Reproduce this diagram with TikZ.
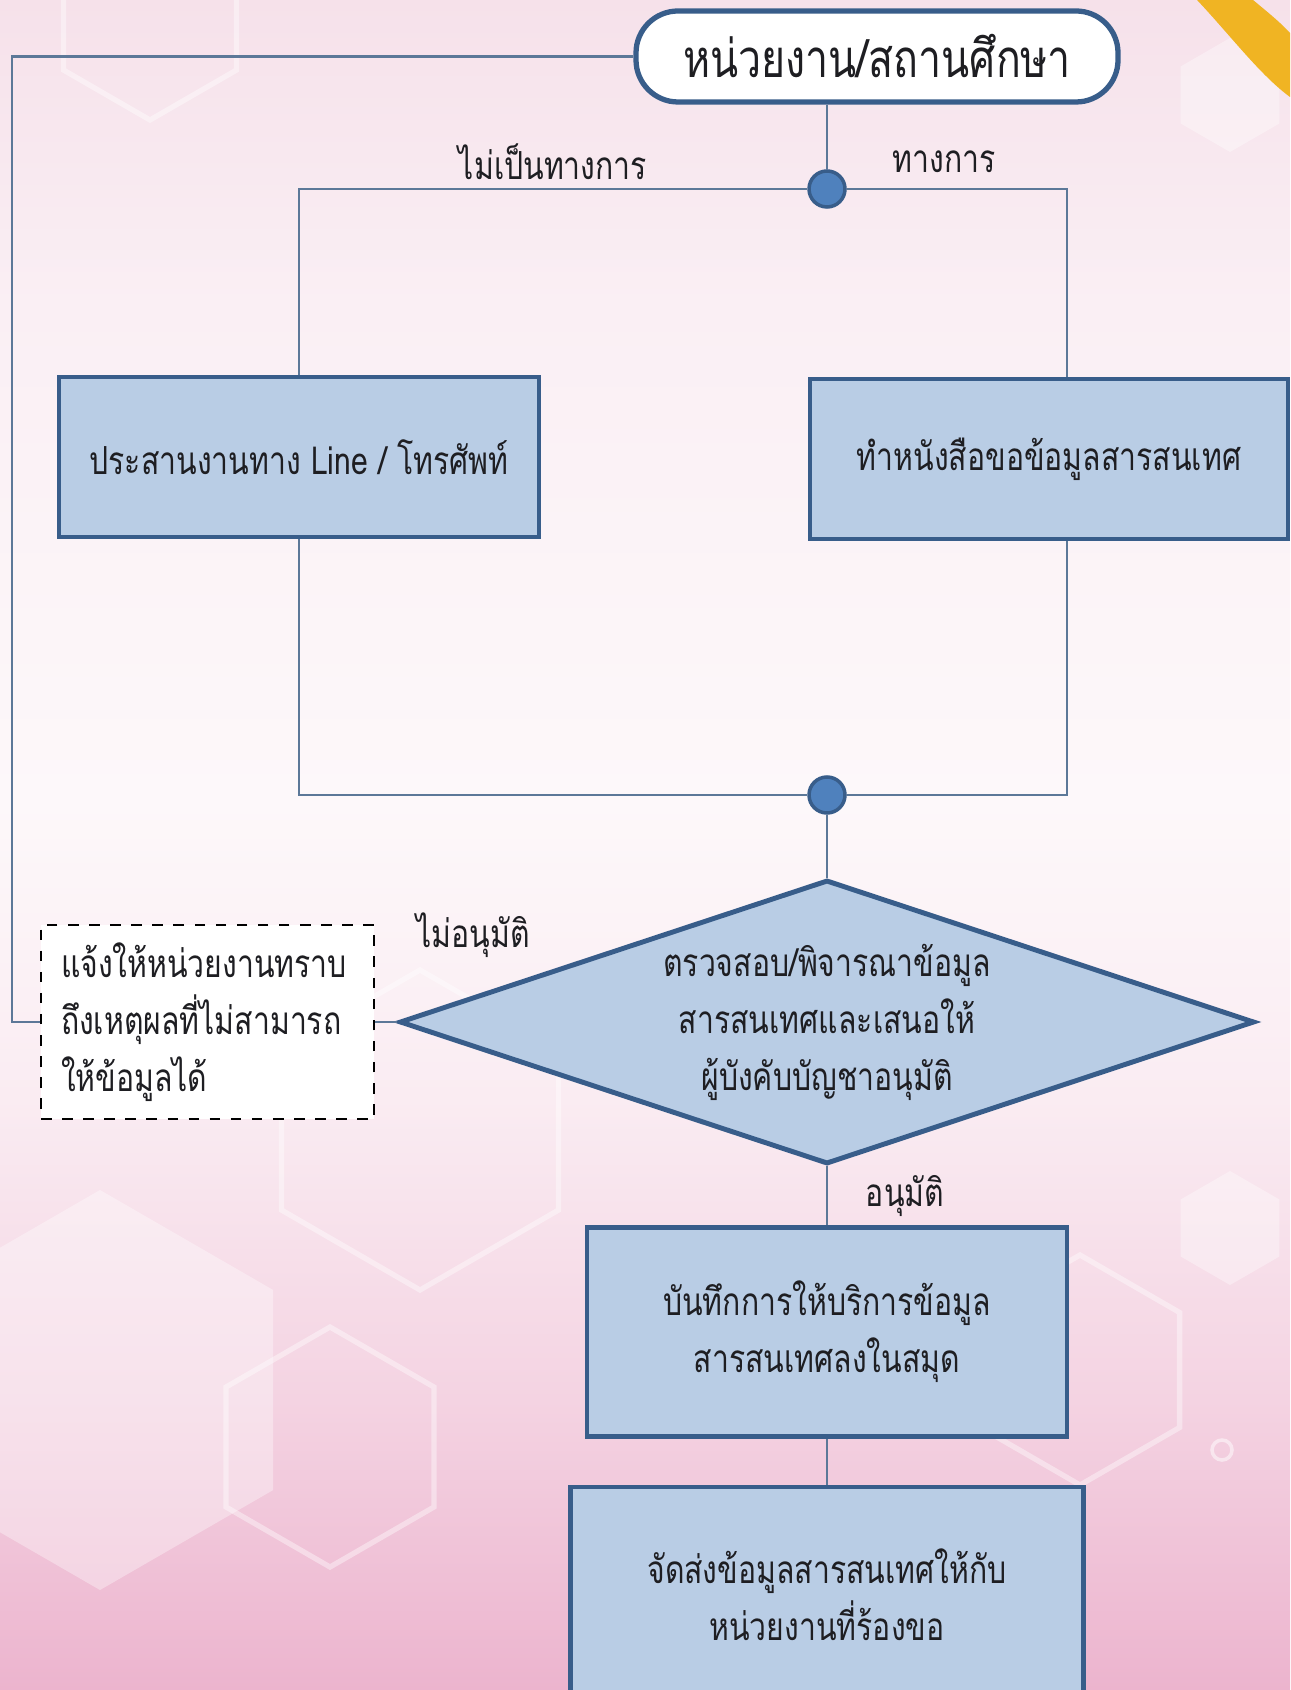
\documentclass[tikz,border=0pt]{standalone}
\usepackage{fontspec}
\newfontfamily\thaifont[Script=Thai, FakeStretch=0.78]{Loma}
\usetikzlibrary{shapes.geometric, positioning, calc}

\definecolor{boxfill}{RGB}{185,205,229}
\definecolor{boxline}{RGB}{56,93,138}
\definecolor{connline}{RGB}{92,120,152}
\definecolor{dotfill}{RGB}{79,129,189}
\definecolor{bgA}{RGB}{236,180,206}
\definecolor{bgB}{RGB}{244,211,226}
\definecolor{bgC}{RGB}{250,236,242}
\definecolor{bgD}{RGB}{253,248,250}
\definecolor{bgE}{RGB}{250,239,244}
\definecolor{bgF}{RGB}{246,225,234}
\definecolor{bandcol}{RGB}{240,180,35}
\definecolor{txtcol}{RGB}{30,30,34}

% page runs from 25bp (bottom) to 75bp (top)
\pgfdeclareverticalshading{bgfade}{100bp}{color(0bp)=(bgA); color(25bp)=(bgA); color(33.6bp)=(bgB);
    color(42.5bp)=(bgC); color(51.3bp)=(bgD); color(66bp)=(bgE); color(75bp)=(bgF); color(100bp)=(bgF)}

\tikzset{
    process/.style={rectangle, draw=boxline, line width=1.4pt, fill=boxfill, text=txtcol,
        align=center, inner sep=0pt, font=\thaifont\fontsize{11}{16.2}\selectfont},
    startbox/.style={rectangle, rounded corners=0.42cm, draw=boxline, line width=1.5pt, fill=white,
        text=txtcol, inner sep=0pt, font=\thaifont\fontsize{15}{17}\selectfont},
    decision/.style={diamond, draw=boxline, line width=1.4pt, fill=boxfill, text=txtcol,
        align=center, inner sep=0pt, shape aspect=3, font=\thaifont\fontsize{11}{16.2}\selectfont},
    notebox/.style={rectangle, draw=black, dashed, thin, fill=white, text=txtcol, align=left,
        inner xsep=0.2cm, inner ysep=0pt, font=\thaifont\fontsize{11}{16.2}\selectfont},
    junction/.style={circle, draw=boxline, line width=1pt, fill=dotfill, inner sep=0pt, minimum size=0.36cm},
    branch/.style={text=txtcol, inner sep=0pt, font=\thaifont\fontsize{11}{14}\selectfont},
    conn/.style={draw=connline, line width=0.6pt},
    hexfill/.style={fill=white, opacity=0.35},
    hexline/.style={draw=white, line width=1.5pt, opacity=0.4}
}

\begin{document}
\begin{tikzpicture}
    \useasboundingbox (0,0) rectangle (12.9,-16.9);
    \clip (0,0) rectangle (12.9,-16.9);

    % Background
    \shade[shading=bgfade] (0,0) rectangle (12.9,-16.9);
    \foreach \x/\y/\r in {12.30/-0.95/0.57, 12.30/-12.28/0.57, 1.0/-13.9/2.0}
        \path[hexfill] (\x,\y) +(30:\r) \foreach \a in {90,150,...,330} { -- +(\a:\r) } -- cycle;
    \foreach \x/\y/\r in {10.8/-13.7/1.15, 3.3/-14.47/1.2, 1.5/-0.2/1.0, 4.2/-11.3/1.6}
        \path[hexline] (\x,\y) +(30:\r) \foreach \a in {90,150,...,330} { -- +(\a:\r) } -- cycle;
    \draw[white, line width=1pt, opacity=0.5] (12.22,-14.5) circle (0.1);
    \fill[bandcol] (11.97,0) .. controls (12.3,-0.35) and (12.6,-0.75) .. (12.9,-0.97)
        -- (12.9,-0.33) .. controls (12.8,-0.22) and (12.65,-0.1) .. (12.53,0) -- cycle;

    % Nodes
    \node[startbox, minimum width=4.82cm, minimum height=0.91cm] (unit) at (8.77,-0.565) {หน่วยงาน/สถานศึกษา};
    \node[junction] (split) at (8.27,-1.89) {};
    \node[branch] (informal) at (5.53,-1.62) {ไม่เป็นทางการ};
    \node[branch] (formal) at (9.44,-1.62) {ทางการ};
    \node[process, minimum width=4.80cm, minimum height=1.60cm] (phone) at (2.99,-4.57) {ประสานงานทาง Line / โทรศัพท์};
    \node[process, minimum width=4.78cm, minimum height=1.60cm] (letter) at (10.49,-4.59) {ทำหนังสือขอข้อมูลสารสนเทศ};
    \node[junction] (merge) at (8.27,-7.95) {};
    \node[decision, minimum width=8.55cm, minimum height=2.84cm] (check) at (8.27,-10.22)
        {ตรวจสอบ/พิจารณาข้อมูล\\สารสนเทศและเสนอให้\\ผู้บังคับบัญชาอนุมัติ};
    \node[notebox, minimum width=3.33cm, minimum height=1.94cm, text width=2.93cm] (notify) at (2.075,-10.22)
        {แจ้งให้หน่วยงานทราบ\\ถึงเหตุผลที่ไม่สามารถ\\ให้ข้อมูลได้};
    \node[branch] (reject) at (4.73,-9.35) {ไม่อนุมัติ};
    \node[branch] (approve) at (9.05,-11.96) {อนุมัติ};
    \node[process, minimum width=4.80cm, minimum height=2.09cm] (record) at (8.27,-13.32)
        {บันทึกการให้บริการข้อมูล\\สารสนเทศลงในสมุด};
    \node[process, minimum width=5.13cm, minimum height=2.16cm] (send) at (8.27,-15.95)
        {จัดส่งข้อมูลสารสนเทศให้กับ\\หน่วยงานที่ร้องขอ};
    \coordinate (back) at (0.12,-0.565);

    % Connectors
    \path[conn] (unit.south -| split) -- (split);
    \path[conn] (split) -| (phone.north);
    \path[conn] (split) -| ([xshift=0.18cm]letter.north);
    \path[conn] (phone.south) |- (merge);
    \path[conn] ([xshift=0.18cm]letter.south) |- (merge);
    \path[conn] (merge) -- (check.north);
    \path[conn] (check.west) -- (notify.east);
    \path[conn] (notify.west) -| (back) -- (unit.west);
    \path[conn] (check.south) -- (record.north);
    \path[conn] (record.south) -- (send.north);
\end{tikzpicture}
\end{document}
